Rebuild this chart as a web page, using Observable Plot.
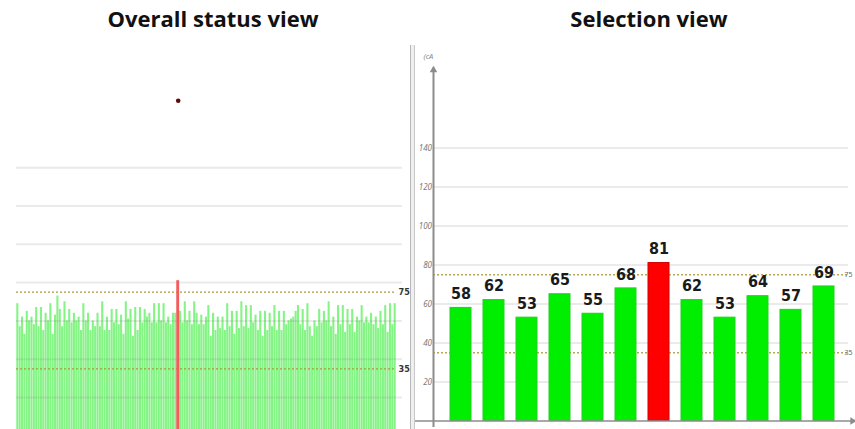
<!DOCTYPE html>
<html><head><meta charset="utf-8">
<script src="https://cdn.jsdelivr.net/npm/d3@7"></script>
<script src="https://cdn.jsdelivr.net/npm/@observablehq/plot@0.6"></script>
<style>
html,body{margin:0;padding:0;background:#fff;overflow:hidden;width:855px;height:429px}
#wrap{position:relative;width:855px;height:429px}
.title{position:absolute;top:0;font-family:"Open Sans",sans-serif;font-weight:700;font-size:22px;color:#111;text-align:center;line-height:36px;white-space:nowrap}
#sep{position:absolute;left:410px;top:45px;width:3px;height:384px;border-left:1px solid #b8b8b8;border-right:1px solid #c8c8c8;background:#efefef}
#left{position:absolute;left:0;top:40px}
#right{position:absolute;left:412px;top:40px}
</style></head><body>
<div id="wrap">
<div id="left"></div><div id="right"></div><div id="sep"></div>
<div class="title" style="left:63px;width:300px">Overall status view</div>
<div class="title" style="left:499px;width:300px">Selection view</div>
</div>
<script>
// ---- data ----
const statusValues = [
69,57,62,53,65,60,62,58,67,57,
67,55,64,60,69,53,63,73,66,57,
70,60,66,59,64,60,62,55,69,60,
64,55,60,57,64,57,70,55,62,55,
66,59,66,58,63,53,70,61,66,52,
67,55,67,59,66,62,64,59,69,59,
69,60,69,59,62,58,64,64,
81,
65,59,70,60,65,58,70,64,58,63,
58,62,68,52,64,55,62,56,62,55,
69,57,65,53,65,56,70,57,68,56,
68,59,63,55,65,52,65,55,64,57,
68,55,65,55,65,58,60,61,62,65,
68,58,66,55,69,57,52,60,57,66,
59,65,60,70,57,62,53,68,58,68,
54,66,58,66,54,62,60,68,59,62,
59,64,58,62,56,65,58,68,54,69,
58,69];
const selectedIndex = 68;
const peakMarker = 175;
const thresholds = [75, 35];
const gridTicks = [20, 40, 60, 80, 100, 120, 140];
const selectionLabels = ["S1","S2","S3","S4","S5","S6","S7","S8","S9","S10","S11","S12"];
const selectionValues = [58, 62, 53, 65, 55, 68, 81, 62, 53, 64, 57, 69];
const selectionHighlighted = 6;
const axisUnit = "(cA";

const narrow = "'Liberation Sans Narrow','Arial Narrow','DejaVu Sans Condensed',sans-serif";

// ---- left: overall status ----
const statusData = statusValues.map((v, i) => ({i, v, sel: i === selectedIndex}));
const left = Plot.plot({
  width: 420, height: 389,
  marginLeft: 16, marginRight: 24, marginTop: 50.6, marginBottom: 0,
  style: {background: "transparent"},
  x: {type: "band", domain: statusData.map(d => d.i), padding: 0.12, axis: null},
  y: {domain: [3.3, 180], axis: null},
  marks: [
    Plot.barY(statusData.filter(d => !d.sel), {x: "i", y: "v", fill: "#84f484"}),
    Plot.ruleY(gridTicks, {stroke: "#808080", strokeOpacity: 0.17, strokeWidth: 2, insetRight: -6}),
    Plot.ruleY(thresholds, {stroke: "#a89a3c", strokeDasharray: "2,2", strokeWidth: 1.3}),
    Plot.barY(statusData.filter(d => d.sel), {x: "i", y: "v", fill: "#f25c5c", insetLeft: -0.4, insetRight: -0.4}),
    Plot.dot([{i: selectedIndex, v: peakMarker}], {x: "i", y: "v", r: 2.3, fill: "#5c0a0a"}),
    Plot.text(thresholds, {y: d => d, text: d => String(d), frameAnchor: "right", textAnchor: "start", dx: 2,
      fontSize: 9, fontWeight: "bold", fill: "#333", fontFamily: narrow})
  ]
});
document.getElementById("left").appendChild(left);

// ---- right: selection view ----
const selData = selectionLabels.map((c, i) => ({c, v: selectionValues[i], hi: i === selectionHighlighted}));
const right = Plot.plot({
  width: 443, height: 389,
  marginLeft: 21, marginRight: 3, marginTop: 68.5, marginBottom: 8.5,
  style: {background: "transparent"},
  color: {type: "identity"},
  x: {domain: selectionLabels, padding: 0.35, axis: null},
  y: {domain: [0, 160]},
  marks: [
    Plot.ruleY(gridTicks, {stroke: "#e4e4e4", strokeWidth: 1.5, insetRight: 4}),
    Plot.ruleY(thresholds, {stroke: "#b8aa55", strokeDasharray: "2,2", strokeWidth: 1.3, insetRight: 4}),
    Plot.barY(selData, {x: "c", y: "v", fill: d => d.hi ? "#ff0000" : "#00ee00",
      stroke: d => d.hi ? "#d00000" : "#22d022", strokeWidth: 1}),
    Plot.text(selData, {x: "c", y: "v", text: d => String(d.v), dy: -14, fontSize: 16, fontWeight: "bold",
      fill: "#1a1a1a", fontFamily: narrow}),
    Plot.axisY(gridTicks, {tickSize: 0, tickPadding: 1.5, fontSize: 8, fontStyle: "italic", fill: "#7a7a7a", label: null}),
    Plot.frame({anchor: "left", stroke: "#8c8c8c", strokeWidth: 2, insetTop: -40.5, insetBottom: -5}),
    Plot.frame({anchor: "bottom", stroke: "#8c8c8c", strokeWidth: 1.5, insetLeft: -20, insetRight: -1}),
    Plot.dot([0], {frameAnchor: "top-left", symbol: "triangle", r: 2.8, fill: "#8c8c8c", stroke: "none", dy: -39}),
    Plot.dot([0], {frameAnchor: "bottom-right", symbol: "triangle", rotate: 90, r: 2.8, fill: "#8c8c8c", stroke: "none", dx: 0}),
    Plot.text([axisUnit], {frameAnchor: "top-left", text: d => d, textAnchor: "start", dx: -10, dy: -55,
      fontSize: 7.5, fontStyle: "italic", fill: "#888"}),
    Plot.text(thresholds, {y: d => d, text: d => String(d), frameAnchor: "right", textAnchor: "start", dx: -8,
      fontSize: 7, fill: "#666"})
  ]
});
document.getElementById("right").appendChild(right);
</script>
</body></html>
